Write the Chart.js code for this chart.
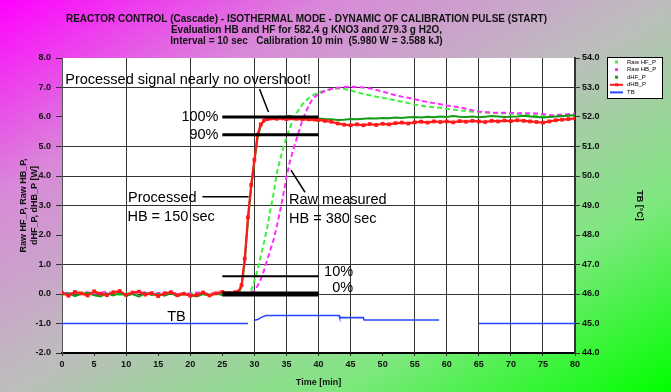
<!DOCTYPE html>
<html>
<head>
<meta charset="utf-8">
<script src="https://cdn.jsdelivr.net/npm/chart.js@4/dist/chart.umd.min.js"></script>
<style>
  html, body { margin: 0; padding: 0; }
  body {
    width: 671px; height: 392px; overflow: hidden;
    background: linear-gradient(to bottom right, #ff00ff 0%, #d88ad8 25%, #bdbdbd 50%, #7ee87e 75%, #00ff00 100%);
  }
</style>
</head>
<body>
<canvas id="chart" width="671" height="392"></canvas>
<script>
// タイトル（3行）
const titleLines = [
  'REACTOR CONTROL (Cascade) - ISOTHERMAL MODE - DYNAMIC OF CALIBRATION PULSE (START)',
  'Evaluation HB and HF for 582.4 g KNO3 and 279.3 g H2O,',
  'Interval = 10 sec   Calibration 10 min  (5.980 W = 3.588 kJ)'
];

// 時間軸 [min]（立ち上がり部分は 0.5 分刻み）
const timeMin = [
  0, 1, 2, 3, 4, 5, 6, 7, 8, 9, 10, 11, 12, 13, 14, 15, 16, 17, 18, 19, 20, 21, 22, 23, 24, 25, 26, 27,
  27.5, 28, 28.5, 29, 29.5, 30, 30.5, 31, 31.5, 32, 32.5, 33, 33.5, 34, 34.5, 35, 35.5, 36, 36.5, 37, 37.5, 38, 38.5, 39, 39.5, 40,
  41, 42, 43, 44, 45, 46, 47, 48, 49, 50, 51, 52, 53, 54, 55, 56, 57, 58, 59, 60,
  61, 62, 63, 64, 65, 66, 67, 68, 69, 70, 71, 72, 73, 74, 75, 76, 77, 78, 79, 80
];

// 生データ HF（明るい緑）
const rawHF = [
  0.01, -0.02, 0.03, 0.00, -0.03, 0.02, 0.04, -0.01, 0.02, -0.03, 0.01, 0.03, -0.02, 0.00, 0.02, -0.04, 0.01, 0.03, -0.02, 0.00, 0.02, -0.01, -0.03, 0.01, 0.03, -0.02, 0.00, 0.01,
  0.00, 0.01, 0.01, 0.03, 0.12, 0.45, 0.80, 1.30, 1.75, 2.25, 2.85, 3.40, 4.10, 4.55, 4.95, 5.30, 5.60, 5.90, 6.10, 6.28, 6.43, 6.55, 6.64, 6.72, 6.78, 6.83,
  6.90, 6.95, 6.97, 6.95, 6.90, 6.84, 6.78, 6.74, 6.69, 6.65, 6.61, 6.57, 6.52, 6.47, 6.42, 6.38, 6.35, 6.33, 6.31, 6.28,
  6.25, 6.22, 6.20, 6.18, 6.17, 6.15, 6.14, 6.13, 6.12, 6.11, 6.10, 6.09, 6.07, 6.05, 6.03, 6.02, 6.02, 6.03, 6.04, 6.05
];

// 生データ HB（マゼンタ）
const rawHB = [
  0.02, 0.05, -0.01, 0.03, 0.06, 0.00, 0.04, 0.08, 0.01, 0.03, -0.02, 0.05, 0.02, 0.07, 0.00, 0.03, 0.06, 0.01, 0.04, -0.01, 0.02, 0.05, 0.03, 0.00, 0.04, 0.06, 0.02, 0.03,
  0.02, 0.03, 0.02, 0.03, 0.04, 0.10, 0.28, 0.50, 0.80, 1.15, 1.50, 1.85, 2.30, 2.80, 3.35, 3.95, 4.45, 4.85, 5.20, 5.55, 5.90, 6.15, 6.40, 6.58, 6.70, 6.78,
  6.88, 6.95, 6.99, 7.02, 7.03, 7.02, 7.00, 6.97, 6.92, 6.86, 6.80, 6.74, 6.69, 6.65, 6.60, 6.55, 6.51, 6.47, 6.43, 6.39,
  6.36, 6.33, 6.28, 6.23, 6.19, 6.17, 6.15, 6.14, 6.14, 6.14, 6.13, 6.13, 6.13, 6.12, 6.10, 6.07, 6.06, 6.08, 6.10, 6.12
];

// 処理後 HF（濃い緑）
const procHF = [
  -0.03, 0.03, -0.07, 0.01, 0.04, -0.04, -0.08, 0.02, -0.05, 0.03, -0.06, 0.00, -0.09, 0.04, -0.03, 0.00, -0.06, 0.02, -0.07, 0.01, -0.04, -0.08, 0.00, -0.05, 0.02, -0.03, 0.04, -0.02,
  0.02, 0.25, 1.10, 2.50, 3.60, 4.45, 5.30, 5.70, 5.88, 5.95, 5.98, 6.00, 5.97, 6.01, 5.99, 6.02, 6.04, 6.00, 5.98, 6.01, 5.99, 5.97, 5.96, 5.98, 5.96, 5.95,
  5.93, 5.92, 5.90, 5.91, 5.93, 5.92, 5.94, 5.96, 5.95, 5.97, 5.96, 5.98, 5.97, 5.99, 6.00, 5.98, 6.01, 5.99, 6.02, 6.00,
  6.03, 6.01, 6.00, 6.02, 5.99, 6.01, 6.03, 6.02, 6.00, 6.01, 6.02, 6.04, 6.02, 6.00, 5.98, 6.00, 6.02, 6.03, 6.05, 6.06
];

// 処理後 HB（赤）
const procHB = [
  0.04, -0.06, 0.07, 0.02, -0.05, 0.09, 0.01, -0.04, 0.06, 0.10, -0.03, 0.05, 0.08, -0.02, 0.03, -0.07, 0.02, 0.06, -0.04, 0.01, -0.06, -0.03, 0.05, -0.05, 0.02, 0.07, 0.03, 0.06,
  0.08, 0.30, 1.20, 2.60, 3.70, 4.55, 5.40, 5.75, 5.88, 5.93, 5.95, 5.96, 5.94, 5.97, 5.95, 5.93, 5.95, 5.96, 5.94, 5.95, 5.93, 5.94, 5.92, 5.93, 5.91, 5.90,
  5.87, 5.84, 5.78, 5.74, 5.72, 5.75, 5.72, 5.76, 5.73, 5.77, 5.75, 5.79, 5.81, 5.78, 5.82, 5.84, 5.81, 5.85, 5.83, 5.85,
  5.82, 5.86, 5.84, 5.87, 5.85, 5.83, 5.87, 5.85, 5.88, 5.86, 5.89, 5.87, 5.85, 5.83, 5.81, 5.85, 5.89, 5.91, 5.93, 5.95
];

// TB [°C]（右軸、欠測は null）
const tbTime = [0, 29, 29.5, 29.9, 30.6, 31.0, 31.8, 43.2, 43.3, 47.0, 47.1, 58.8, 62, 65, 80];
const tbTemp = [45.0, 45.0, null, 45.1, 45.14, 45.2, 45.27, 45.27, 45.2, 45.2, 45.12, 45.12, null, 45.0, 45.0];

// 凡例ラベル
const seriesNames = ['Raw HF_P', 'Raw HB_P', 'dHF_P', 'dHB_P', 'TB'];

// 基準レベル線（100% / 90% / 10% / 0%）
const levelNames = ['100%', '90%', '10%', '0%'];
const levelValues = [6.0, 5.4, 0.6, 0.0];
const levelSpan = [25, 40];

// 注記テキスト（データ座標）
const noteText = ['Processed signal nearly no overshoot!', 'Processed', 'HB = 150 sec', 'Raw measured', 'HB = 380 sec', 'TB'];
const noteTime = [0.5, 10.3, 10.2, 35.4, 35.4, 16.4];
const noteValue = [7.25, 3.25, 2.6, 3.2, 2.55, -0.78];
const levelLabelTime = [24.4, 24.4, 45.4, 45.4];
const levelLabelValue = [6.0, 5.4, 0.74, 0.2];

// 注記の引出線 [t, v] → [t, v]
const pointerFrom = [[30.8, 6.95], [21.9, 3.3], [35.7, 4.2]];
const pointerTo = [[32.2, 6.17], [29.1, 3.3], [37.9, 3.45]];

// 目盛線を引く位置
const xGridAt = [10, 20, 30, 35, 40, 45, 55, 60, 65, 70, 75];
const yGridAt = [7, 5, 4, 3, 1, 0];

const FONT = "'Liberation Sans', Arial, sans-serif";
Chart.defaults.font.family = FONT;
Chart.defaults.color = '#111';

function pts(xs, ys) {
  return xs.map((x, i) => ({ x, y: ys[i] }));
}

const colors = ['#3cf03c', '#ff2cff', '#159a15', '#ff1a1a', '#2848ff'];

const datasets = [
  { label: seriesNames[3], data: pts(timeMin, procHB), borderColor: colors[3], backgroundColor: colors[3],
    borderWidth: 2.2, pointRadius: 1.1, pointStyle: 'rect', order: 1 },
  { label: seriesNames[2], data: pts(timeMin, procHF), borderColor: colors[2], backgroundColor: colors[2],
    borderWidth: 2, pointRadius: 0, order: 2 },
  { label: seriesNames[1], data: pts(timeMin, rawHB), borderColor: colors[1], backgroundColor: colors[1],
    borderWidth: 2, borderDash: [5, 3], pointRadius: 0, order: 3 },
  { label: seriesNames[0], data: pts(timeMin, rawHF), borderColor: colors[0], backgroundColor: colors[0],
    borderWidth: 2, borderDash: [5, 3], pointRadius: 0, order: 4 },
  { label: seriesNames[4], data: pts(tbTime, tbTemp), borderColor: colors[4], backgroundColor: colors[4],
    borderWidth: 1.6, pointRadius: 0, spanGaps: false, yAxisID: 'y1', order: 5 },
];

// レベル線
const levelWidths = [3, 3, 2, 5];
levelValues.forEach((v, i) => {
  datasets.push({
    label: levelNames[i], data: [{ x: levelSpan[0], y: v }, { x: levelSpan[1], y: v }],
    borderColor: '#000', borderWidth: levelWidths[i], pointRadius: 0, order: 0
  });
});
// 引出線
pointerFrom.forEach((p, i) => {
  datasets.push({
    label: 'pointer' + i, data: [{ x: p[0], y: p[1] }, { x: pointerTo[i][0], y: pointerTo[i][1] }],
    borderColor: '#000', borderWidth: 1.5, pointRadius: 0, order: 0
  });
});

// プロット領域の白背景・タイトル・注記・凡例
const decor = {
  id: 'decor',
  beforeDraw(chart) {
    const { ctx, chartArea: a } = chart;
    ctx.save();
    ctx.fillStyle = '#fff';
    ctx.fillRect(a.left, a.top, a.right - a.left, a.bottom - a.top);
    ctx.restore();
  },
  afterDraw(chart) {
    const { ctx, chartArea: a } = chart;
    const xs = chart.scales.x, ys = chart.scales.y;
    ctx.save();
    // タイトル
    ctx.fillStyle = '#111';
    ctx.font = 'bold 10px ' + FONT;
    ctx.textAlign = 'center';
    ctx.textBaseline = 'middle';
    const cx = (a.left + a.right) / 2 - 12;
    titleLines.forEach((t, i) => ctx.fillText(t, cx, 19 + i * 11));

    // 注記
    ctx.font = '14.5px ' + FONT;
    ctx.fillStyle = '#000';
    ctx.textAlign = 'left';
    noteText.forEach((t, i) => {
      ctx.fillText(t, xs.getPixelForValue(noteTime[i]), ys.getPixelForValue(noteValue[i]));
    });
    ctx.textAlign = 'right';
    levelNames.forEach((t, i) => {
      ctx.fillText(t, xs.getPixelForValue(levelLabelTime[i]), ys.getPixelForValue(levelLabelValue[i]));
    });

    // 凡例
    const lx = 607, ly = 57, lw = 55, lh = 41;
    ctx.fillStyle = '#fff';
    ctx.fillRect(lx, ly, lw, lh);
    ctx.strokeStyle = '#000';
    ctx.lineWidth = 1;
    ctx.strokeRect(lx + 0.5, ly + 0.5, lw, lh);
    ctx.font = '6px ' + FONT;
    ctx.textAlign = 'left';
    seriesNames.forEach((name, i) => {
      const y = ly + 5 + i * 7.6;
      ctx.fillStyle = colors[i];
      ctx.strokeStyle = colors[i];
      if (i >= 3) {
        ctx.lineWidth = 2;
        ctx.beginPath();
        ctx.moveTo(lx + 3, y);
        ctx.lineTo(lx + 16, y);
        ctx.stroke();
      }
      if (i <= 3) ctx.fillRect(lx + 8, y - 1.5, 3, 3);
      ctx.fillStyle = '#000';
      ctx.fillText(name, lx + 20, y);
    });
    ctx.restore();
  }
};

new Chart(document.getElementById('chart'), {
  type: 'line',
  data: { datasets },
  options: {
    responsive: false,
    animation: false,
    events: [],
    layout: { padding: { top: 58, left: 0, right: 0, bottom: 0 } },
    elements: { line: { tension: 0 } },
    plugins: {
      legend: { display: false },
      tooltip: { enabled: false },
      title: { display: false }
    },
    scales: {
      x: {
        type: 'linear', min: 0, max: 80,
        ticks: { stepSize: 5, padding: 3, font: { size: 9, weight: 'bold' }, maxRotation: 0 },
        grid: {
          color: c => (c.tick && xGridAt.includes(c.tick.value)) ? '#333' : 'rgba(0,0,0,0)',
          tickColor: '#333', tickLength: 3
        },
        border: { color: '#000', width: 2 },
        title: { display: true, text: 'Time [min]', font: { size: 9, weight: 'bold' }, padding: { top: 0, bottom: 4 } },
        afterFit(s) { s.height = 39; }
      },
      y: {
        type: 'linear', position: 'left', min: -2, max: 8,
        ticks: { stepSize: 1, padding: 5, font: { size: 9, weight: 'bold' }, callback: v => v.toFixed(1) },
        grid: {
          color: c => (c.tick && yGridAt.includes(c.tick.value)) ? '#333' : 'rgba(0,0,0,0)',
          tickColor: '#333', tickLength: 6
        },
        border: { color: '#555', width: 1 },
        title: {
          display: true, text: ['Raw HF_P, Raw HB_P,', 'dHF_P, dHB_P [W]'],
          font: { size: 9, weight: 'bold' }, padding: { top: 18, bottom: 0 }
        },
        afterFit(s) { s.width = 62; }
      },
      y1: {
        type: 'linear', position: 'right', min: 44, max: 54,
        ticks: { stepSize: 1, padding: 2, font: { size: 9, weight: 'bold' }, callback: v => v.toFixed(1) },
        grid: { drawOnChartArea: false, tickColor: '#333', tickLength: 5 },
        border: { color: '#333', width: 2 },
        title: { display: true, text: 'TB [°C]', font: { size: 9, weight: 'bold' }, padding: { top: 26, bottom: 0 } },
        afterFit(s) { s.width = 96; }
      }
    }
  },
  plugins: [decor]
});
</script>
</body>
</html>
